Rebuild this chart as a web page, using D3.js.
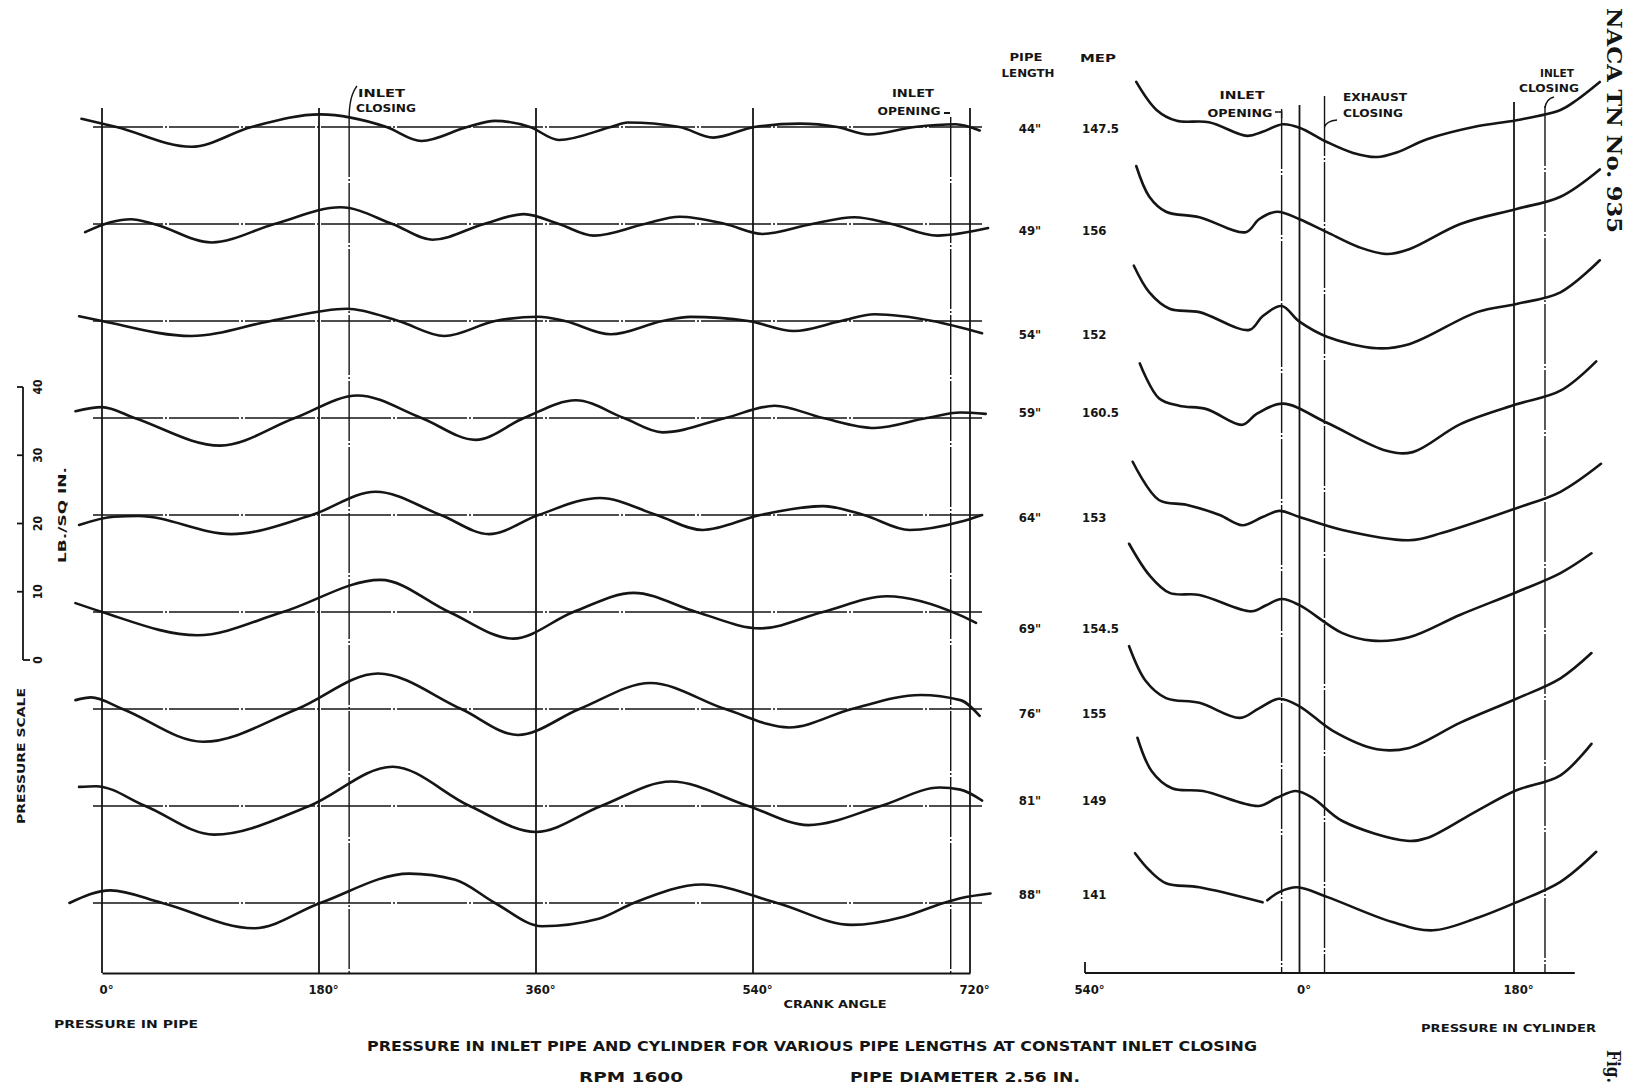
<!DOCTYPE html>
<html>
<head>
<meta charset="utf-8">
<script src="https://cdn.jsdelivr.net/npm/d3@7"></script>
<style>
body{margin:0;background:#ffffff;}
</style>
</head>
<body>
<svg id="Main_Part" width="1635" height="1089"></svg>
<script>
// ---- data ----
var pipeLengths = ['44"','49"','54"','59"','64"','69"','76"','81"','88"'];
var mepValues = ["147.5","156","152","160.5","153","154.5","155","149","141"];

var crankTicks = [0,180,360,540,720];
var crankTickLabels = ["0°","180°","360°","540°","720°"];
var cylTicks = [-180,0,180];
var cylTickLabels = ["540°","0°","180°"];
var pipeEvents = [205,704];        // inlet closing, inlet opening
var cylEvents = [-15,21,206];      // inlet opening, exhaust closing, inlet closing
var scaleTicks = [0,10,20,30,40];  // lb/sq in.

// pressure in pipe: [crank angle, lb/sq in. from mean line]
var pipePressure = [
	[[-17,1.2],[12,0],[74,-2.9],[124,0],[181,1.85],[236,0],[265,-2.05],[303,0],[326,0.9],[355,0],[379,-1.9],[422,0],[436,0.65],[479,0],[507,-1.55],[541,0],[579,0.5],[610,0],[636,-1.1],[674,0],[708,0.4],[728,-0.5]],
	[[-14,-1.2],[7,0.25],[24,0.7],[43,0],[91,-2.7],[143,0],[198,2.45],[241,0],[274,-2.3],[317,0],[350,1.45],[379,0],[408,-1.7],[450,0],[479,1.07],[517,0],[548,-1.46],[589,0],[624,0.98],[655,0],[693,-1.7],[735,-0.6]],
	[[-19,0.7],[0,0],[74,-2.2],[140,0],[203,1.8],[246,0],[284,-2.2],[326,0],[362,0.63],[384,0],[422,-1.95],[465,0],[488,0.6],[536,0],[574,-1.46],[613,0],[641,0.98],[689,0],[730,-1.8]],
	[[-22,1.0],[0,1.6],[27,0],[98,-4.05],[160,0],[212,3.3],[265,0],[310,-3.2],[350,0],[393,2.6],[433,0],[465,-2.1],[517,0],[558,1.8],[598,0],[641,-1.46],[684,0],[712,0.8],[733,0.6]],
	[[-19,-1.46],[10,-0.25],[30,-0.15],[107,-2.8],[174,0],[227,3.4],[281,0],[321,-2.8],[362,0],[413,2.5],[460,0],[498,-2.2],[546,0],[598,1.3],[632,0],[670,-2.2],[712,-1.0],[730,0]],
	[[-22,1.3],[0,0],[79,-3.4],[150,0],[231,4.7],[288,0],[341,-3.9],[391,0],[441,2.8],[493,0],[546,-2.4],[598,0],[651,2.3],[712,-0.5],[725,-1.6]],
	[[-22,1.3],[-9,1.7],[17,0],[84,-4.8],[162,0],[229,5.2],[298,0],[345,-3.8],[396,0],[455,3.8],[517,0],[570,-2.7],[622,0],[679,2.05],[712,1.3],[728,-1.0]],
	[[-19,2.8],[-5,2.9],[36,0],[93,-4.2],[172,0],[241,5.75],[305,0],[360,-3.8],[414,0],[472,3.6],[536,0],[586,-2.8],[646,0],[695,2.7],[712,2.4],[730,0.8]],
	[[-27,0],[7,1.85],[50,0],[126,-3.7],[181,0],[255,4.3],[293,3.4],[326,0],[365,-3.4],[412,-2.3],[441,0],[498,2.7],[560,0],[622,-3.2],[665,-2.0],[698,0],[712,0.7],[737,1.4]]
];

// pressure in cylinder: [crank angle from top centre, lb/sq in. from row line]; null = break in trace
var cylPressure = [
	[[-137,6.6],[-120,2.5],[-103,0.9],[-76,0.7],[-44,-1.3],[-31,-0.7],[-14,0.4],[0,-0.1],[23,-2.2],[45,-3.8],[65,-4.4],[82,-3.7],[107,-1.8],[149,0.1],[182,1.0],[219,2.5],[233,4.0],[252,6.6]],
	[[-137,8.5],[-126,4.0],[-112,1.8],[-84,1.0],[-45,-1.2],[-34,0.7],[-19,1.8],[0,0.7],[23,-1.2],[50,-3.4],[73,-4.4],[92,-3.7],[135,0],[182,2.2],[219,4.0],[252,8.0]],
	[[-139,8.1],[-126,4.2],[-109,1.8],[-84,1.3],[-42,-1.3],[-31,0.7],[-15,2.2],[0,-0.1],[23,-2.3],[65,-4.0],[92,-3.4],[149,1.3],[182,2.5],[219,4.2],[252,8.9]],
	[[-134,8.0],[-118,2.9],[-101,1.8],[-78,1.3],[-48,-1.0],[-36,0.6],[-14,2.1],[23,-0.7],[73,-4.8],[95,-5.0],[135,-0.9],[182,2.0],[219,4.0],[249,8.3]],
	[[-140,7.8],[-118,2.2],[-95,1.5],[-67,0],[-48,-1.5],[-31,-0.3],[-17,0.6],[0,-0.3],[36,-2.2],[92,-3.7],[120,-2.6],[182,1.0],[219,3.4],[253,7.5]],
	[[-143,10.0],[-126,5.4],[-109,2.8],[-84,2.5],[-40,0.1],[-28,1.0],[-15,1.9],[0,1.0],[36,-3.1],[61,-4.2],[92,-3.7],[135,-0.4],[182,2.9],[219,5.7],[245,8.6]],
	[[-143,9.2],[-129,4.1],[-112,1.6],[-84,0.9],[-50,-1.3],[-34,0.1],[-17,1.5],[0,0.4],[28,-3.2],[65,-5.9],[92,-5.7],[135,-2.0],[182,1.5],[219,4.5],[245,8.2]],
	[[-136,10.0],[-124,5.1],[-107,2.6],[-81,2.2],[-34,0],[-19,1.2],[-3,2.2],[11,1.2],[36,-2.2],[90,-5.1],[107,-4.7],[149,-0.7],[182,2.3],[219,4.5],[245,9.1]],
	[[-138,7.3],[-126,4.8],[-112,2.9],[-84,2.3],[-31,0.1],[-29,null],[-27,0.4],[-17,1.6],[-2,2.3],[23,0.9],[78,-2.8],[112,-4.0],[149,-2.2],[182,0.1],[219,3.1],[249,7.5]]
];

// ---- layout ----
var FontName = "'DejaVu Sans Condensed','DejaVu Sans',sans-serif";
var InkColor = "#151515";
var AxisY = 973;
var labelY = [128,230,334,412,517,628,713,800,894];

var svg = d3.select("#Main_Part");
svg.append("rect").attr("width",1635).attr("height",1089).attr("fill","#ffffff");

var xPipe = d3.scaleLinear().domain([0,720]).range([102,970]);
var xCyl = d3.scaleLinear().domain([-180,180]).range([1085,1514]);
var yRow = d3.scalePoint().domain(pipeLengths).range([127,903]);
var yScale = d3.scaleLinear().domain([0,40]).range([660,387]);

function RowOffset(psi)
{
	return yScale(psi) - yScale(0);
}

function PutText(TextString,x,y,size,anchor,len,rotate)
{
	var t = svg.append("text")
	.attr("x",x)
	.attr("y",y)
	.attr("text-anchor",anchor || "start")
	.style("font-family",FontName)
	.style("font-weight","bold")
	.style("font-size",size + "px")
	.style("fill",InkColor)
	.text(TextString);
	if(len)
		{
			t.attr("textLength",len).attr("lengthAdjust","spacingAndGlyphs");
		}
	if(rotate)
		{
			t.attr("transform","rotate(" + rotate + "," + x + "," + y + ")");
		}
	return t;
}

function VLine(x,y1,y2,dashed)
{
	svg.append("line")
	.attr("x1",x).attr("x2",x)
	.attr("y1",y1).attr("y2",y2)
	.attr("stroke",InkColor)
	.attr("stroke-width",dashed ? 1.4 : 1.8)
	.attr("stroke-dasharray",dashed ? "60,2,2,2" : null);
}

// ---- row mean lines (dash-dot) ----
svg.append("g").selectAll("line")
	.data(pipeLengths)
	.enter()
	.append("line")
	.attr("x1",93)
	.attr("x2",982)
	.attr("y1",function(d){ return yRow(d); })
	.attr("y2",function(d){ return yRow(d); })
	.attr("stroke",InkColor)
	.attr("stroke-width",1.6)
	.attr("stroke-dasharray","70,2,2,2");

// ---- vertical reference lines ----
crankTicks.forEach(function(a){ VLine(xPipe(a),108,AxisY,false); });
pipeEvents.forEach(function(a){ VLine(xPipe(a),117,AxisY,true); });
VLine(xCyl(0),105,AxisY,false);
VLine(xCyl(180),102,AxisY,false);
VLine(xCyl(cylEvents[0]),109,AxisY,true);
VLine(xCyl(cylEvents[1]),96,AxisY,true);
VLine(xCyl(cylEvents[2]),106,AxisY,true);
VLine(xCyl(-180),962,AxisY,false);

// ---- curves ----
pipeLengths.forEach(function(name,i)
{
	var base = yRow(name);
	var PipeLine = d3.line()
	.x(function(d){ return xPipe(d[0]); })
	.y(function(d){ return base + RowOffset(d[1]); })
	.curve(d3.curveMonotoneX);

	var CylLine = d3.line()
	.defined(function(d){ return d[1] !== null; })
	.x(function(d){ return xCyl(d[0]); })
	.y(function(d){ return base + RowOffset(d[1]); })
	.curve(d3.curveCatmullRom.alpha(0.5));

	svg.append("path")
	.attr("d",PipeLine(pipePressure[i]))
	.attr("fill","none")
	.attr("stroke",InkColor)
	.attr("stroke-width",2.6)
	.attr("stroke-linecap","round");

	svg.append("path")
	.attr("d",CylLine(cylPressure[i]))
	.attr("fill","none")
	.attr("stroke",InkColor)
	.attr("stroke-width",2.6)
	.attr("stroke-linecap","round");

	PutText(name,1030,labelY[i] + 5,13,"middle");
	PutText(mepValues[i],1082,labelY[i] + 5,13,"start");
});

// ---- crank angle axes ----
var PipeAxis = svg.append("g")
	.attr("transform","translate(0," + AxisY + ")")
	.call(d3.axisBottom(xPipe).tickValues(crankTicks).tickSize(0).tickPadding(12)
		.tickFormat(function(d,i){ return crankTickLabels[i]; }));
var CylAxis = svg.append("g")
	.attr("transform","translate(0," + AxisY + ")")
	.call(d3.axisBottom(xCyl).tickValues(cylTicks).tickSize(0).tickPadding(12)
		.tickFormat(function(d,i){ return cylTickLabels[i]; }));
CylAxis.select(".domain").remove();
svg.selectAll(".tick text")
	.attr("dx",4)
	.style("font-family",FontName)
	.style("font-weight","bold")
	.style("font-size","13px")
	.style("fill",InkColor);
PipeAxis.select(".domain").attr("stroke",InkColor).attr("stroke-width",2.2);
svg.append("line")
	.attr("x1",xCyl(-180)).attr("x2",xCyl(231))
	.attr("y1",AxisY).attr("y2",AxisY)
	.attr("stroke",InkColor).attr("stroke-width",2.2);

// ---- pressure scale ----
svg.append("line")
	.attr("x1",23).attr("x2",23)
	.attr("y1",yScale(0)).attr("y2",yScale(40))
	.attr("stroke",InkColor).attr("stroke-width",1.8);
svg.append("g").selectAll("line")
	.data(scaleTicks)
	.enter()
	.append("line")
	.attr("x1",23)
	.attr("x2",function(d){ return d == 0 ? 30 : 17; })
	.attr("y1",function(d){ return yScale(d); })
	.attr("y2",function(d){ return yScale(d); })
	.attr("stroke",InkColor).attr("stroke-width",1.8);
scaleTicks.forEach(function(d)
{
	PutText(String(d),38,yScale(d),12,"middle",null,-90).attr("dy","0.35em");
});
PutText("LB./SQ IN.",66,515,11,"middle",96,-90);
PutText("PRESSURE SCALE",25,756,11,"middle",136,-90);

// ---- headers and annotations ----
PutText("PIPE",1026,61,11,"middle",33);
PutText("LENGTH",1028,77,11,"middle",53);
PutText("MEP",1098,62,11,"middle",36);

PutText("INLET",358,97,11,"start",47);
PutText("CLOSING",356,112,11,"start",60);
svg.append("path").attr("d","M" + xPipe(pipeEvents[0]) + ",118 Q" + xPipe(pipeEvents[0]) + ",96 357,86")
	.attr("fill","none").attr("stroke",InkColor).attr("stroke-width",1.4);

PutText("INLET",913,97,11,"middle",42);
PutText("OPENING",909,115,11,"middle",63);
svg.append("line").attr("x1",944).attr("x2",950).attr("y1",113).attr("y2",113)
	.attr("stroke",InkColor).attr("stroke-width",2);

PutText("INLET",1242,99,11,"middle",45);
PutText("OPENING",1240,117,11,"middle",65);
svg.append("path").attr("d","M1275,112 L" + xCyl(cylEvents[0]) + ",112 L" + xCyl(cylEvents[0]) + ",118")
	.attr("fill","none").attr("stroke",InkColor).attr("stroke-width",1.4);

PutText("EXHAUST",1343,101,11,"start",64);
PutText("CLOSING",1343,117,11,"start",60);
svg.append("path").attr("d","M" + xCyl(cylEvents[1]) + ",127 Q" + (xCyl(cylEvents[1]) + 2) + ",121 1337,120")
	.attr("fill","none").attr("stroke",InkColor).attr("stroke-width",1.4);

PutText("INLET",1557,77,11,"middle",34);
PutText("CLOSING",1549,92,11,"middle",60);
svg.append("path").attr("d","M" + xCyl(cylEvents[2]) + ",108 Q" + (xCyl(cylEvents[2]) + 1) + ",99 1554,97")
	.attr("fill","none").attr("stroke",InkColor).attr("stroke-width",1.4);

// ---- bottom texts ----
PutText("CRANK ANGLE",835,1008,11,"middle",103);
PutText("PRESSURE IN PIPE",54,1028,11,"start",144);
PutText("PRESSURE IN CYLINDER",1421,1032,11,"start",175);
PutText("PRESSURE IN INLET PIPE AND CYLINDER FOR VARIOUS PIPE LENGTHS AT CONSTANT INLET CLOSING",367,1051,14,"start",890);
PutText("RPM 1600",579,1082,14,"start",104);
PutText("PIPE DIAMETER 2.56 IN.",850,1082,14,"start",230);

// ---- page marks ----
svg.append("text")
	.attr("x",1607).attr("y",8)
	.attr("transform","rotate(90,1607,8)")
	.attr("textLength",225).attr("lengthAdjust","spacingAndGlyphs")
	.style("font-family","'DejaVu Serif','Liberation Serif',serif")
	.style("font-weight","bold")
	.style("font-size","21px")
	.style("fill",InkColor)
	.text("NACA TN No. 935");
svg.append("text")
	.attr("x",1607).attr("y",1050)
	.attr("transform","rotate(90,1607,1050)")
	.attr("textLength",33).attr("lengthAdjust","spacingAndGlyphs")
	.style("font-family","'DejaVu Serif','Liberation Serif',serif")
	.style("font-weight","bold")
	.style("font-size","18px")
	.style("fill",InkColor)
	.text("Fig.");
</script>
</body>
</html>
